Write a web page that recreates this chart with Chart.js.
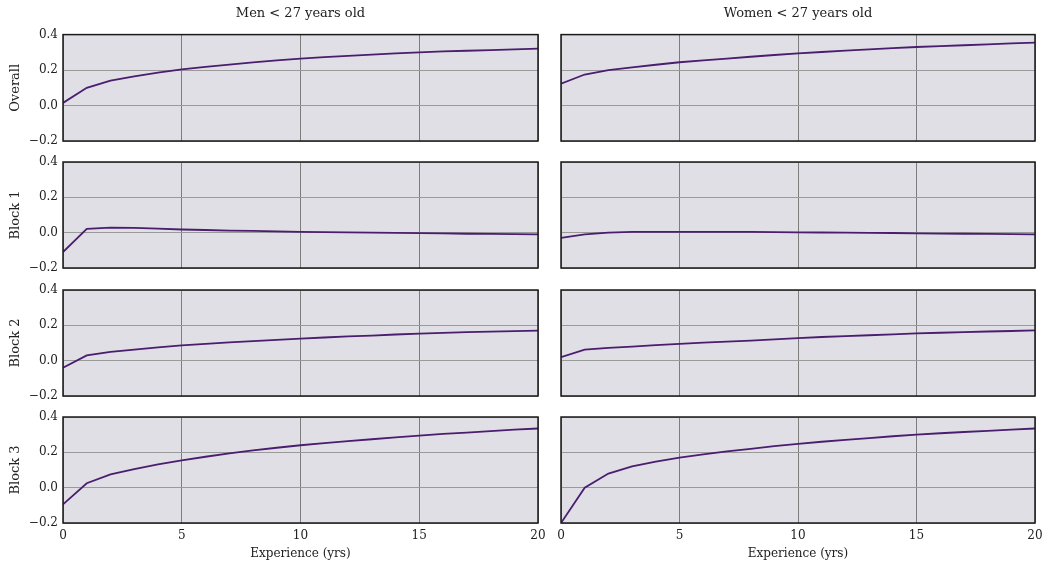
<!DOCTYPE html>
<html>
<head>
<meta charset="utf-8">
<script src="https://cdn.jsdelivr.net/npm/chart.js@4.4.1/dist/chart.umd.min.js"></script>
<style>
  body { margin: 0; background: #fff; }
  #wrap { position: relative; width: 1045px; height: 562px; }
  #wrap canvas { position: absolute; }
</style>
</head>
<body>
<div id="wrap"></div>
<script>
const years = [0,1,2,3,4,5,6,7,8,9,10,11,12,13,14,15,16,17,18,19,20];
const columns = ['Men < 27 years old', 'Women < 27 years old'];
const rows = ['Overall', 'Block 1', 'Block 2', 'Block 3'];
const xTicks = [0, 5, 10, 15, 20];
const yTicks = [-0.2, 0.0, 0.2, 0.4];

// Men
const menOverall = [0.015,0.100,0.140,0.165,0.186,0.204,0.218,0.231,0.243,0.255,0.265,0.273,0.280,0.287,0.294,0.300,0.305,0.309,0.313,0.317,0.321];
const menBlock1  = [-0.110,0.022,0.028,0.027,0.023,0.018,0.015,0.012,0.010,0.007,0.005,0.003,0.002,0.000,-0.001,-0.003,-0.004,-0.006,-0.007,-0.008,-0.010];
const menBlock2  = [-0.040,0.030,0.050,0.063,0.075,0.086,0.095,0.103,0.111,0.118,0.125,0.131,0.137,0.142,0.148,0.153,0.157,0.161,0.164,0.167,0.170];
const menBlock3  = [-0.095,0.025,0.075,0.105,0.132,0.155,0.175,0.194,0.211,0.226,0.240,0.252,0.263,0.274,0.285,0.295,0.304,0.312,0.320,0.328,0.335];
// Women
const womenOverall = [0.123,0.175,0.200,0.215,0.230,0.244,0.255,0.265,0.275,0.285,0.294,0.302,0.310,0.317,0.324,0.330,0.335,0.340,0.345,0.350,0.355];
const womenBlock1  = [-0.030,-0.010,0.000,0.004,0.005,0.005,0.005,0.004,0.004,0.003,0.002,0.001,0.000,-0.001,-0.002,-0.004,-0.005,-0.006,-0.007,-0.008,-0.010];
const womenBlock2  = [0.020,0.062,0.072,0.080,0.088,0.095,0.102,0.108,0.114,0.120,0.128,0.134,0.139,0.144,0.149,0.154,0.158,0.162,0.165,0.168,0.171];
const womenBlock3  = [-0.200,0.000,0.080,0.120,0.148,0.170,0.188,0.205,0.220,0.235,0.248,0.260,0.271,0.281,0.291,0.300,0.308,0.315,0.322,0.329,0.335];

const series = [
  [menOverall, womenOverall],
  [menBlock1, womenBlock1],
  [menBlock2, womenBlock2],
  [menBlock3, womenBlock3]
];

const plotTops = [35, 162, 290, 417];
const plotH = 106;
const font = "'DejaVu Serif', 'Liberation Serif', serif";

const panelBg = {
  id: 'panelBg',
  beforeDraw(chart) {
    const a = chart.chartArea, c = chart.ctx;
    c.save();
    c.fillStyle = '#e0dfe6';
    c.fillRect(a.left, a.top, a.right - a.left, a.bottom - a.top);
    c.restore();
  },
  afterDraw(chart) {
    const a = chart.chartArea, c = chart.ctx;
    c.save();
    c.strokeStyle = '#1a1a1a';
    c.lineWidth = 1.5;
    c.strokeRect(a.left, a.top, a.right - a.left, a.bottom - a.top);
    c.restore();
  }
};

function fmt(v) {
  return v.toFixed(1).replace('-', '\u2212');
}

const wrap = document.getElementById('wrap');

rows.forEach(function (rowName, r) {
  columns.forEach(function (colName, c) {
    const isLeft = c === 0;
    const isTop = r === 0;
    const isBottom = r === rows.length - 1;
    const padTop = isTop ? 0 : 8;
    const padBottom = isBottom ? 0 : 8;
    const xH = isBottom ? 38 : 0;
    const left = isLeft ? 0 : 557;
    const width = isLeft ? 548 : 488;
    const top = isTop ? 0 : plotTops[r] - padTop;
    const height = (isTop ? plotTops[0] : padTop) + plotH + xH + padBottom;

    const cv = document.createElement('canvas');
    cv.style.left = left + 'px';
    cv.style.top = top + 'px';
    cv.style.width = width + 'px';
    cv.style.height = height + 'px';
    cv.width = width;
    cv.height = height;
    wrap.appendChild(cv);

    new Chart(cv.getContext('2d'), {
      type: 'line',
      data: {
        datasets: [{
          data: years.map(function (x, i) { return { x: x, y: series[r][c][i] }; }),
          borderColor: '#4a1d6e',
          borderWidth: 1.8,
          pointRadius: 0,
          tension: 0,
          fill: false
        }]
      },
      plugins: [panelBg],
      options: {
        responsive: false,
        animation: false,
        layout: { padding: { top: padTop, bottom: padBottom, left: isLeft ? 0 : 4, right: 10 } },
        plugins: {
          legend: { display: false },
          tooltip: { enabled: false },
          title: {
            display: isTop,
            text: colName,
            fullSize: false,
            color: '#222',
            font: { family: font, size: 13, weight: 'normal' },
            padding: { top: 6, bottom: 13 }
          }
        },
        scales: {
          x: {
            type: 'linear',
            min: xTicks[0],
            max: xTicks[xTicks.length - 1],
            afterBuildTicks(axis) { axis.ticks = xTicks.map(function (v) { return { value: v }; }); },
            afterFit(axis) {
              axis.height = xH;
              axis.paddingLeft = 0;
              axis.paddingRight = 0;
            },
            border: { display: false },
            grid: { color: '#7d7d7d', lineWidth: 1, drawTicks: false },
            ticks: {
              display: isBottom,
              padding: 6,
              color: '#222',
              font: { family: font, size: 12 },
              maxRotation: 0
            },
            title: {
              display: isBottom,
              text: 'Experience (yrs)',
              color: '#222',
              font: { family: font, size: 12 },
              padding: { top: 2, bottom: 0 }
            }
          },
          y: {
            min: yTicks[0],
            max: yTicks[yTicks.length - 1],
            afterBuildTicks(axis) { axis.ticks = yTicks.map(function (v) { return { value: v }; }); },
            afterFit(axis) {
              axis.width = isLeft ? 63 : 0;
              axis.paddingTop = 0;
              axis.paddingBottom = 0;
            },
            border: { display: false },
            grid: { color: '#9a9a9a', lineWidth: 1, drawTicks: false },
            ticks: {
              display: isLeft,
              padding: 5,
              color: '#222',
              font: { family: font, size: 12 },
              callback: function (v) { return fmt(v); }
            },
            title: {
              display: isLeft,
              text: rowName,
              color: '#222',
              font: { family: font, size: 13 },
              padding: { top: 8, bottom: 4 }
            }
          }
        }
      }
    });
  });
});
</script>
</body>
</html>
